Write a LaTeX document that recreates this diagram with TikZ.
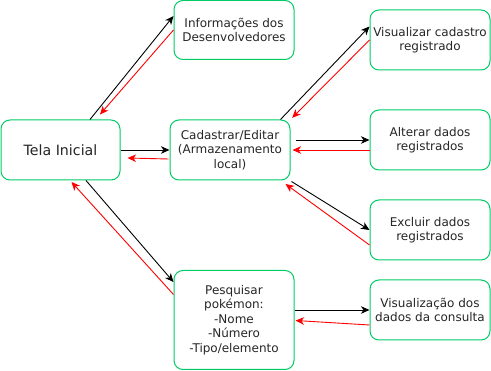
\documentclass[tikz,border=0pt]{standalone}
\usepackage{fontspec}
\setmainfont{DejaVu Sans}
\usetikzlibrary{arrows.meta,calc}
\definecolor{boxgreen}{RGB}{0,204,102}
\tikzset{
  screen/.style={draw=boxgreen, line width=1pt, rounded corners=9pt, fill=white,
    minimum width=120pt, minimum height=60pt, inner sep=2pt, align=center,
    font=\fontsize{12}{14.5}\selectfont, text=black!85},
  tip/.style={-{Stealth[length=8.5pt,width=7.5pt,inset=2.5pt]}},
  go/.style={tip, draw=black, line width=0.9pt},
  back/.style={tip, draw=red, line width=0.9pt},
}
\begin{document}
\begin{tikzpicture}[x=1pt,y=-1pt]
  \useasboundingbox (0,0) rectangle (491,371);

  % screens
  \node[screen, minimum width=119pt, font=\fontsize{14.2}{16}\selectfont] (tela) at (60.5,150) {Tela Inicial};
  \node[screen, minimum height=59pt] (info) at (234,30) {Informações dos\\Desenvolvedores};
  \node[screen] (cad) at (230,150) {Cadastrar/Editar\\(Armazenamento\\local)};
  \node[screen] (vis) at (430,40) {Visualizar cadastro\\registrado};
  \node[screen] (alt) at (430,140) {Alterar dados\\registrados};
  \node[screen] (exc) at (430,230) {Excluir dados\\registrados};
  \node[screen, minimum height=99pt] (pesq) at (234,320) {Pesquisar\\pokémon:\\-Nome\\-Número\\-Tipo/elemento};
  \node[screen] (visd) at (430,310) {Visualização dos\\dados da consulta};

  % forward navigation
  \draw[go] ($(tela.north west)+(89.5,0)$) -- ($(info.north west)+(0,16)$);
  \draw[go] (tela.east) -- (cad.west);
  \draw[go] ($(tela.south west)+(85.5,0)$) -- ($(pesq.north west)+(0,12)$);
  \draw[go] ($(cad.north east)+(-10,0)$) -- ($(vis.north west)+(0,17)$);
  \draw[go] ($(cad.east)+(5,-10)$) -- (alt.west);
  \draw[go] ($(cad.south east)+(1,1)$) -- (exc.west);
  \draw[go] ($(pesq.east)+(0,-10)$) -- (visd.west);

  % return paths
  \draw[back] (info.west) -- ($(tela.north west)+(99.5,-5)$);
  \draw[back] ($(cad.west)+(-1,9)$) -- ($(tela.east)+(7,8)$);
  \draw[back] ($(pesq.north west)+(0,24.5)$) -- ($(tela.south west)+(71,1.5)$);
  \draw[back] (vis.west) -- ($(cad.north east)+(1.7,-1.7)$);
  \draw[back] ($(alt.west)+(0,10)$) -- ($(cad.east)+(2,0)$);
  \draw[back] ($(exc.west)+(0,15)$) -- ($(cad.south east)+(-5,3.5)$);
  \draw[back] ($(visd.west)+(0,15)$) -- ($(pesq.east)+(1,0.5)$);
\end{tikzpicture}
\end{document}
